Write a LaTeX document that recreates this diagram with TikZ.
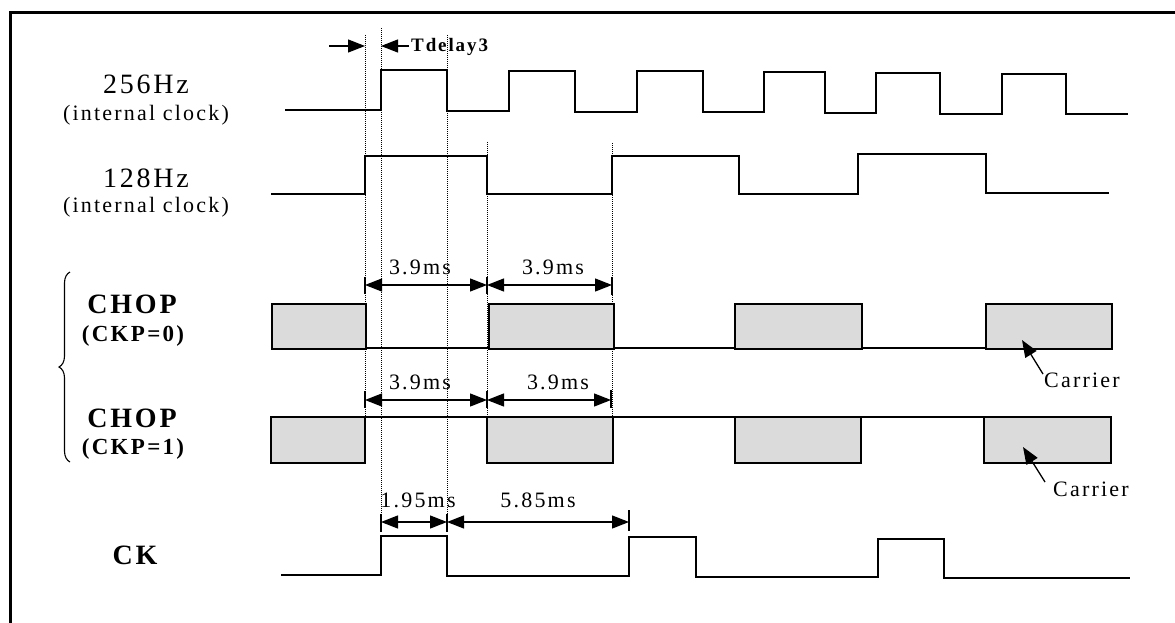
\documentclass[tikz,border=0pt]{standalone}
\usepackage{fontspec}
\setmainfont{Liberation Serif}
\newfontfamily\lsfont[LetterSpace=10]{Liberation Serif}
\usetikzlibrary{arrows.meta,decorations.pathreplacing}
\begin{document}
\begin{tikzpicture}[x=1pt,y=-1pt,
  sig/.style={line width=1.6pt, line join=miter},
  thinsig/.style={line width=1.2pt},
  guide/.style={line width=0.7pt, dash pattern=on 0.8pt off 1.2pt},
  dimarr/.style={line width=1.3pt, {Triangle[length=17pt,width=13pt]}-{Triangle[length=17pt,width=13pt]}},
  onearr/.style={line width=1.3pt, -{Triangle[length=17pt,width=13pt]}},
  dimtick/.style={line width=1.2pt},
  carrierbox/.style={draw, line width=1.6pt, fill=black!14},
  lbl/.style={font=\lsfont\fontsize{28}{31}\selectfont, inner sep=0pt},
  sublbl/.style={font=\lsfont\fontsize{22}{25}\selectfont, inner sep=0pt},
  blbl/.style={font=\lsfont\bfseries\fontsize{28}{31}\selectfont, inner sep=0pt},
  bsub/.style={font=\lsfont\bfseries\fontsize{23}{26}\selectfont, inner sep=0pt},
  mslbl/.style={font=\lsfont\fontsize{22}{25}\selectfont, inner sep=0pt},
  tdlbl/.style={font=\lsfont\bfseries\fontsize{19}{22}\selectfont, inner sep=0pt},
]
\useasboundingbox (0,0) rectangle (1175,623);
\fill[white] (0,0) rectangle (1175,623);
% frame
\draw[line width=3pt] (1175,12.5) -- (10,12.5) -- (10,623);

% labels
\node[lbl] (l256) at (146,84) {256Hz};
\node[sublbl] (l256s) at (146,115) {(internal clock)};
\node[lbl] (l128) at (146,178) {128Hz};
\node[sublbl] (l128s) at (146,207) {(internal clock)};
\node[blbl] (chop0) at (132,304) {CHOP};
\node[bsub] (ckp0) at (133,336) {(CKP=0)};
\node[blbl] (chop1) at (132,418) {CHOP};
\node[bsub] (ckp1) at (133,449) {(CKP=1)};
\node[blbl] (ck) at (135,555) {CK};

% brace
\coordinate (brb) at (70,462);
\coordinate (brt) at (70,272);
\draw[line width=1.1pt, decorate, decoration={brace, amplitude=11pt}] (brb) -- (brt);

% guides
\draw[guide] (365,35) -- (365,462);
\draw[guide] (381,28) -- (381,515);
\draw[guide] (447,35) -- (447,515);
\draw[guide] (487,142) -- (487,462);
\draw[guide] (612,143) -- (612,462);

% 256 Hz
\draw[sig] (285,110) -- (381,110) -- (381,70) -- (447,70) -- (447,111) -- (509,111) -- (509,71) -- (575,71) -- (575,112) -- (637,112) -- (637,71) -- (703,71) -- (703,112) -- (764,112) -- (764,72) -- (825,72) -- (825,113) -- (876,113) -- (876,73) -- (940,73) -- (940,114) -- (1002,114) -- (1002,74) -- (1066,74) -- (1066,114) -- (1128,114);

% Tdelay3
\coordinate (tdA) at (329,46);
\coordinate (tdB) at (365,46);
\coordinate (tdC) at (409,46);
\coordinate (tdD) at (381,46);
\draw[onearr] (tdA) -- (tdB);
\draw[onearr] (tdC) -- (tdD);
\node[tdlbl, anchor=base west] (td) at (411,52) {Tdelay3};

% 128 Hz
\draw[sig] (271,194) -- (365,194) -- (365,156) -- (487,156) -- (487,194) -- (612,194) -- (612,156) -- (739,156) -- (739,194) -- (858,194) -- (858,154) -- (986,154) -- (986,193) -- (1109,193);

% CHOP CKP=0
\coordinate (r0a) at (365,285);
\coordinate (r0b) at (487,285);
\coordinate (r0c) at (612,285);
\draw[dimtick] (365,277) -- (365,294);
\draw[dimtick] (487,277) -- (487,294);
\draw[dimtick] (612,277) -- (612,295);
\draw[dimarr] (r0a) -- (r0b);
\draw[dimarr] (r0b) -- (r0c);
\node[mslbl] (m1) at (420,267) {3.9ms};
\node[mslbl] (m2) at (553,267) {3.9ms};
\draw[thinsig] (365,348) -- (488,348);
\draw[thinsig] (613,348) -- (734,348);
\draw[thinsig] (861,348) -- (985,348);
\node[carrierbox, minimum width=94pt, minimum height=45pt, anchor=north west] (b01) at (271,303) {};
\node[carrierbox, minimum width=125pt, minimum height=45pt, anchor=north west] (b02) at (488,303) {};
\node[carrierbox, minimum width=127pt, minimum height=45pt, anchor=north west] (b03) at (734,303) {};
\node[carrierbox, minimum width=126pt, minimum height=45pt, anchor=north west] (b04) at (985,303) {};
\node[mslbl, anchor=west] (car0) at (1044,380) {Carrier};
\coordinate (c0t) at (1043,374);
\coordinate (c0h) at (1022,340);
\draw[onearr] (c0t) -- (c0h);

% CHOP CKP=1
\coordinate (r1a) at (365,400);
\coordinate (r1b) at (487,400);
\coordinate (r1c) at (611,400);
\draw[dimtick] (365,391) -- (365,408);
\draw[dimtick] (487,391) -- (487,408);
\draw[dimtick] (611,390) -- (611,408);
\draw[dimarr] (r1a) -- (r1b);
\draw[dimarr] (r1b) -- (r1c);
\node[mslbl] (m3) at (420,382) {3.9ms};
\node[mslbl] (m4) at (558,382) {3.9ms};
\draw[thinsig] (364,417) -- (486,417);
\draw[thinsig] (612,417) -- (734,417);
\draw[thinsig] (860,417) -- (983,417);
\node[carrierbox, minimum width=94pt, minimum height=46pt, anchor=north west] (b11) at (270,416) {};
\node[carrierbox, minimum width=126pt, minimum height=46pt, anchor=north west] (b12) at (486,416) {};
\node[carrierbox, minimum width=126pt, minimum height=46pt, anchor=north west] (b13) at (734,416) {};
\node[carrierbox, minimum width=127pt, minimum height=46pt, anchor=north west] (b14) at (983,416) {};
\node[mslbl, anchor=west] (car1) at (1053,489) {Carrier};
\coordinate (c1t) at (1045,482);
\coordinate (c1h) at (1023,447);
\draw[onearr] (c1t) -- (c1h);

% CK
\coordinate (k1) at (381,522);
\coordinate (k2) at (447,522);
\coordinate (k3) at (629,522);
\draw[dimtick] (381,514) -- (381,532);
\draw[dimtick] (447,514) -- (447,532);
\draw[dimtick] (629,510) -- (629,531);
\draw[dimarr] (k1) -- (k2);
\draw[dimarr] (k2) -- (k3);
\node[mslbl] (m5) at (418,500) {1.95ms};
\node[mslbl] (m6) at (538,500) {5.85ms};
\draw[sig] (281,575) -- (381,575) -- (381,536) -- (447,536) -- (447,576) -- (629,576) -- (629,537) -- (696,537) -- (696,577) -- (878,577) -- (878,539) -- (944,539) -- (944,578) -- (1130,578);
\end{tikzpicture}
\end{document}
